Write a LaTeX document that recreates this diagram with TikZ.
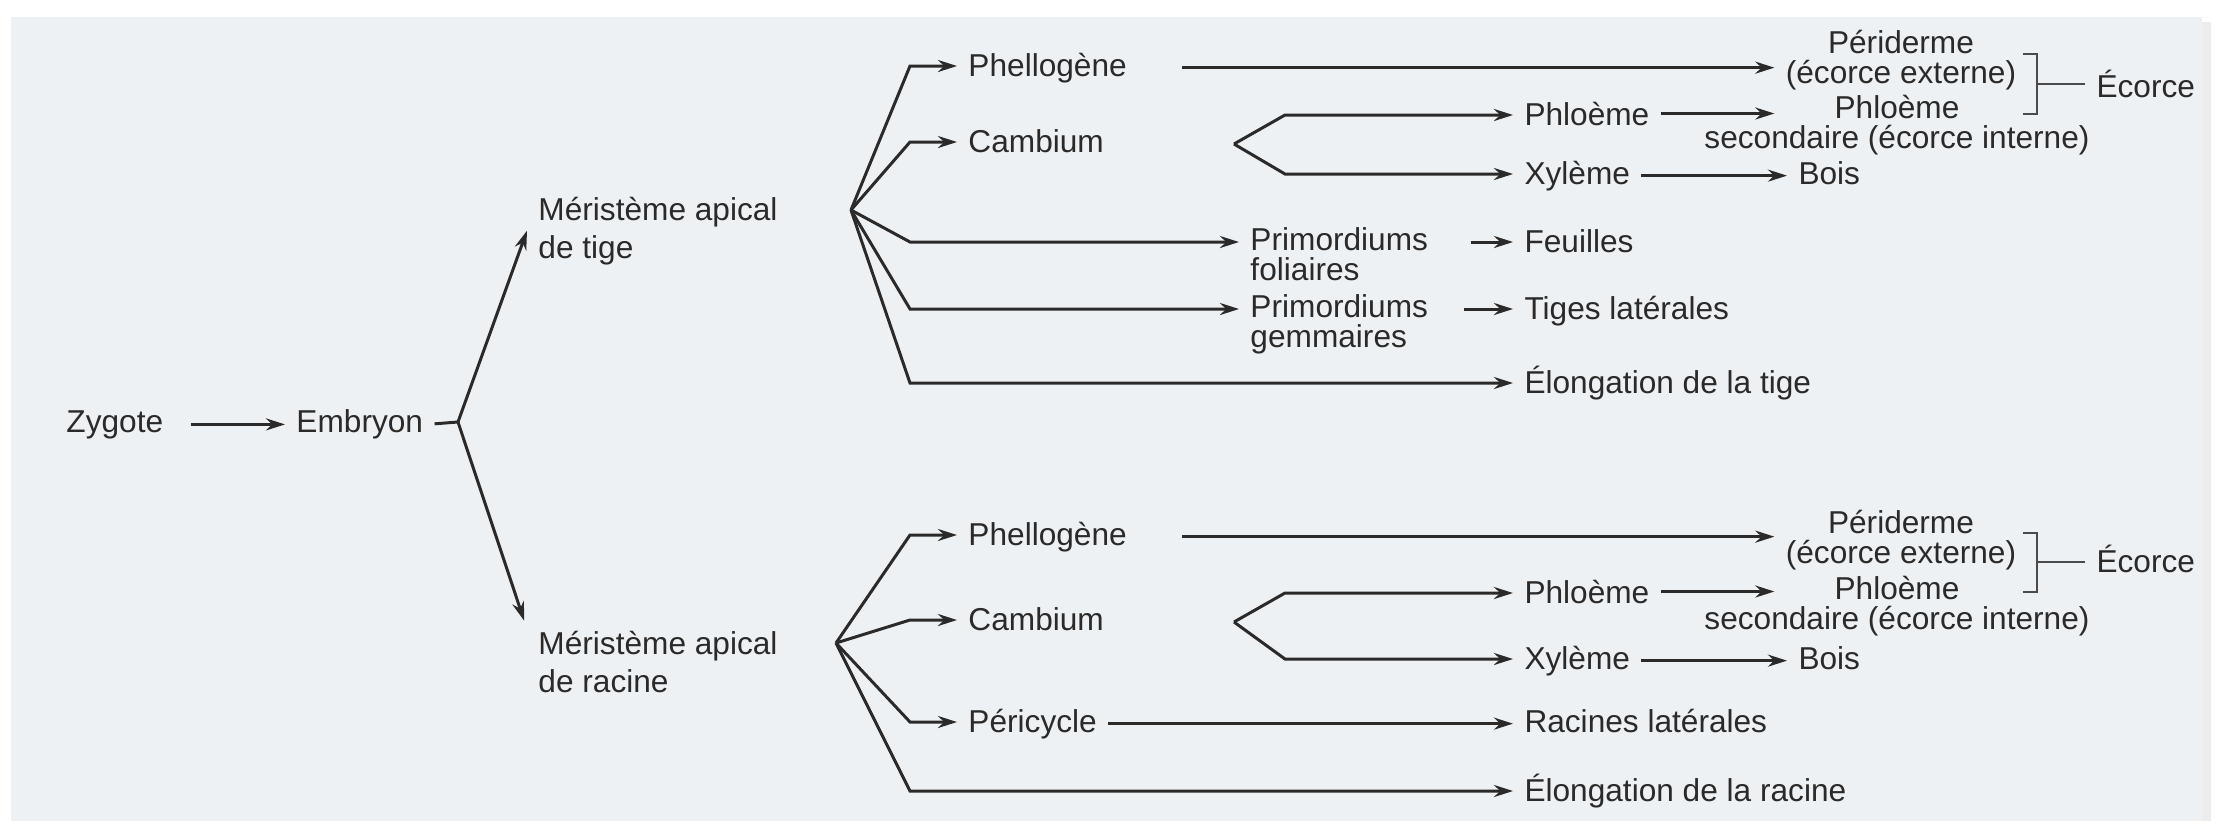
\documentclass[tikz,border=0pt]{standalone}
\usepackage{fontspec}
\setmainfont{Liberation Sans}
\usetikzlibrary{arrows.meta}
\definecolor{panel}{HTML}{EEF1F4}
\definecolor{ink}{HTML}{2A2A2A}

\begin{document}
\begin{tikzpicture}[x=0.1mm, y=-0.1mm, line width=0.85pt, color=ink,
		>={Stealth[length=1.9mm,width=1.2mm]},
		lbl/.style={anchor=base west, inner xsep=1mm, inner ysep=0pt, font=\fontsize{9}{8.3}\selectfont},
		lbltwo/.style={lbl, align=left},
		lblmid/.style={lbl, anchor=base, align=center},
		lblmer/.style={lbltwo, font=\fontsize{9}{10.8}\selectfont},
		brk/.style={line width=0.55pt, ink!85}]
	\useasboundingbox (0,0) rectangle (2222,824);
	%panel
	\fill[black!7] (2202,22) rectangle (2211,821);
	\fill[panel] (11,17) rectangle (2202,821);
	
	%zygote to meristems
	\node[lbl] (zyg) at (55,432) {Zygote};
	\node[lbl] (emb) at (285,432) {Embryon};
	\coordinate (split) at (458,422);
	\node[lblmer] (mt) at (527,258) {Méristème apical\\de tige};
	\node[lblmer] (mr) at (527,692) {Méristème apical\\de racine};
	\draw[->, shorten <=1.6mm] (zyg.east) -- (zyg.east -| emb.west);
	\draw (emb.east) -- (split);
	\draw[->] (split) -- (mt.west);
	\draw[->, shorten >=0.9mm] (split) -- (mr.north west);
	
	%tige
	\coordinate (fanT) at (851,210);
	\node[lbl] (phelT) at (957,76) {Phellogène};
	\node[lbl] (cambT) at (957,152) {Cambium};
	\node[lbltwo] (prfT) at (1239,280) {Primordiums\\foliaires};
	\node[lbltwo] (prgT) at (1239,347) {Primordiums\\gemmaires};
	\node[lbl] (elT) at (1513,393) {Élongation de la tige};
	\node[lbl] (phlT) at (1513,125) {Phloème};
	\node[lbl] (xylT) at (1513,184) {Xylème};
	\node[lbl] (feuT) at (1513,252) {Feuilles};
	\node[lbl] (tigT) at (1513,319) {Tiges latérales};
	\node[lblmid] (perT) at (1901,83) {Périderme\\(écorce externe)};
	\node[lblmid] (phsT) at (1897,148) {Phloème\\secondaire (écorce interne)};
	\node[lbl] (boisT) at (1787,184) {Bois};
	\node[lbl] (ecT) at (2085,97) {Écorce};
	
	\coordinate (tA) at (910,66);
	\coordinate (tB) at (910,142);
	\coordinate (tC) at (910,242);
	\coordinate (tD) at (910,309);
	\coordinate (tE) at (910,383);
	\foreach \c/\n in {tA/phelT, tB/cambT, tC/prfT, tD/prgT, tE/elT}{
		\draw[->] (fanT) -- (\c) -- (\c -| \n.west);
	}
	\coordinate (vT) at (1234,144);
	\coordinate (pT) at (1285,115);
	\coordinate (xT) at (1285,174);
	\draw[->] (vT) -- (pT) -- (pT -| phlT.west);
	\draw[->] (vT) -- (xT) -- (xT -| xylT.west);
	
	\draw[->, shorten <=4.4mm] (phelT.east) -- (phelT.east -| perT.west);
	\draw[->] (phlT.east) -- (phlT.east -| perT.west);
	\draw[->] (xylT.east) -- (xylT.east -| boisT.west);
	\draw[->, shorten <=3.1mm] (prfT.east |- tC) -- (tC -| feuT.west);
	\draw[->, shorten <=2.4mm] (prgT.east |- tD) -- (tD -| tigT.west);
	
	\draw[brk] (2023,54) -- (2037,54) -- (2037,114) -- (2023,114);
	\coordinate (bT) at (2037,84);
	\draw[brk] (bT) -- (bT -| ecT.west);
	
	%racine
	\coordinate (fanR) at (836,643);
	\node[lbl] (phelR) at (957,545) {Phellogène};
	\node[lbl] (cambR) at (957,630) {Cambium};
	\node[lbl] (periR) at (957,732) {Péricycle};
	\node[lbl] (elR) at (1513,801) {Élongation de la racine};
	\node[lbl] (phlR) at (1513,603) {Phloème};
	\node[lbl] (xylR) at (1513,669) {Xylème};
	\node[lbl] (racR) at (1513,732) {Racines latérales};
	\node[lblmid] (perR) at (1901,563) {Périderme\\(écorce externe)};
	\node[lblmid] (phsR) at (1897,629) {Phloème\\secondaire (écorce interne)};
	\node[lbl] (boisR) at (1787,669) {Bois};
	\node[lbl] (ecR) at (2085,572) {Écorce};
	
	\coordinate (rA) at (910,535);
	\coordinate (rB) at (910,620);
	\coordinate (rC) at (910,722);
	\coordinate (rD) at (910,791);
	\foreach \c/\n in {rA/phelR, rB/cambR, rC/periR, rD/elR}{
		\draw[->] (fanR) -- (\c) -- (\c -| \n.west);
	}
	\coordinate (vR) at (1234,622);
	\coordinate (pR) at (1285,593);
	\coordinate (xR) at (1285,659);
	\draw[->] (vR) -- (pR) -- (pR -| phlR.west);
	\draw[->] (vR) -- (xR) -- (xR -| xylR.west);
	
	\draw[->, shorten <=4.4mm] (phelR.east) -- (phelR.east -| perR.west);
	\draw[->] (phlR.east) -- (phlR.east -| perR.west);
	\draw[->] (xylR.east) -- (xylR.east -| boisR.west);
	\draw[->] (periR.east) -- (periR.east -| racR.west);
	
	\draw[brk] (2023,533) -- (2037,533) -- (2037,592) -- (2023,592);
	\coordinate (bR) at (2037,562);
	\draw[brk] (bR) -- (bR -| ecR.west);
\end{tikzpicture}
\end{document}
